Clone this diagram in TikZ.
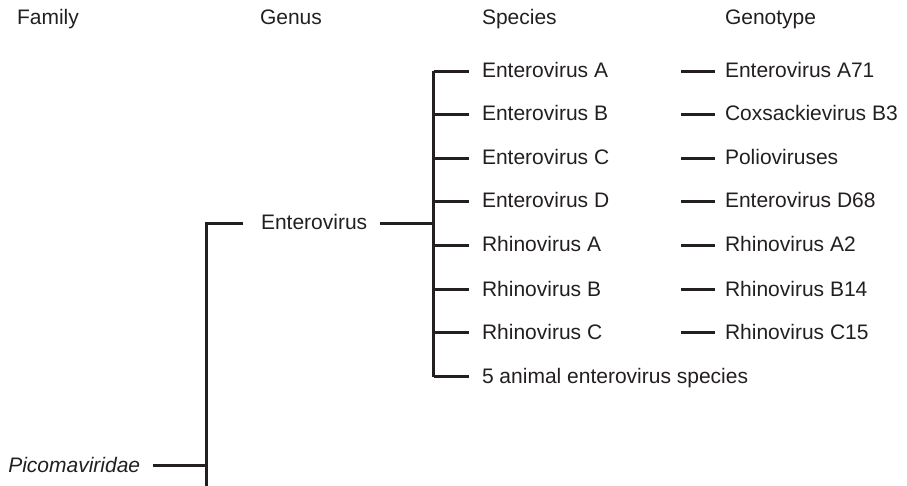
\documentclass[tikz,border=0pt]{standalone}
\usepackage{fontspec}
\setmainfont{Liberation Sans}
\definecolor{ink}{RGB}{35,31,32}
\begin{document}
\begin{tikzpicture}[x=1pt,y=-1pt,
  lbl/.style={anchor=west,inner sep=0pt,outer sep=0pt,text height=13pt,text depth=0pt,
    font=\fontsize{21}{25}\selectfont,text=ink},
  ln/.style={draw=ink,line width=2.8pt,line join=miter}]
\useasboundingbox (0,0) rectangle (907,486);
% headers
\node[lbl] (hfam) at (17,18.5) {Family};
\node[lbl] (hgen) at (260,18.5) {Genus};
\node[lbl] (hsp) at (482,18.5) {Species};
\node[lbl] (hgt) at (725,18.5) {Genotype};
% species
\node[lbl] (sp1) at (482,71.5) {Enterovirus A};
\node[lbl] (sp2) at (482,114.5) {Enterovirus B};
\node[lbl] (sp3) at (482,158.5) {Enterovirus C};
\node[lbl] (sp4) at (482,201.5) {Enterovirus D};
\node[lbl] (sp5) at (482,245.5) {Rhinovirus A};
\node[lbl] (sp6) at (482,289.5) {Rhinovirus B};
\node[lbl] (sp7) at (482,332.5) {Rhinovirus C};
\node[lbl] (sp8) at (482,376.5) {5 animal enterovirus species};
% genotypes
\node[lbl] (gt1) at (725,71.5) {Enterovirus A71};
\node[lbl] (gt2) at (725,114.5) {Coxsackievirus B3};
\node[lbl] (gt3) at (725,158.5) {Polioviruses};
\node[lbl] (gt4) at (725,201.5) {Enterovirus D68};
\node[lbl] (gt5) at (725,245.5) {Rhinovirus A2};
\node[lbl] (gt6) at (725,289.5) {Rhinovirus B14};
\node[lbl] (gt7) at (725,332.5) {Rhinovirus C15};
% genus and family
\node[lbl] (gen) at (261,223.5) {Enterovirus};
\node[lbl,font=\fontsize{21}{25}\selectfont\itshape] (fam) at (8.3,465.5) {Picomaviridae};
% bracket coordinates
\coordinate (sv) at (433.5,0);
\coordinate (fv) at (206.5,0);
\coordinate (fb) at (206.5,486);
% species bracket
\draw[ln] (sv |- sp1.west) -- (sv |- sp8.west);
\foreach \i in {1,...,8}{
  \draw[ln] (sv |- sp\i.west) -- ([xshift=-13pt]sp\i.west);
}
% genotype ticks
\foreach \i in {1,...,7}{
  \draw[ln] ([xshift=-10pt]gt\i.west) -- ++(-34.3,0);
}
% genus to species
\draw[ln] ([xshift=12.7pt]gen.east) -- (sv |- gen.east);
% family bracket
\draw[ln] ([xshift=-17.7pt]gen.west) -| (fb);
\draw[ln] ([xshift=12.6pt]fam.east) -- (fv |- fam.east);
\end{tikzpicture}
\end{document}
